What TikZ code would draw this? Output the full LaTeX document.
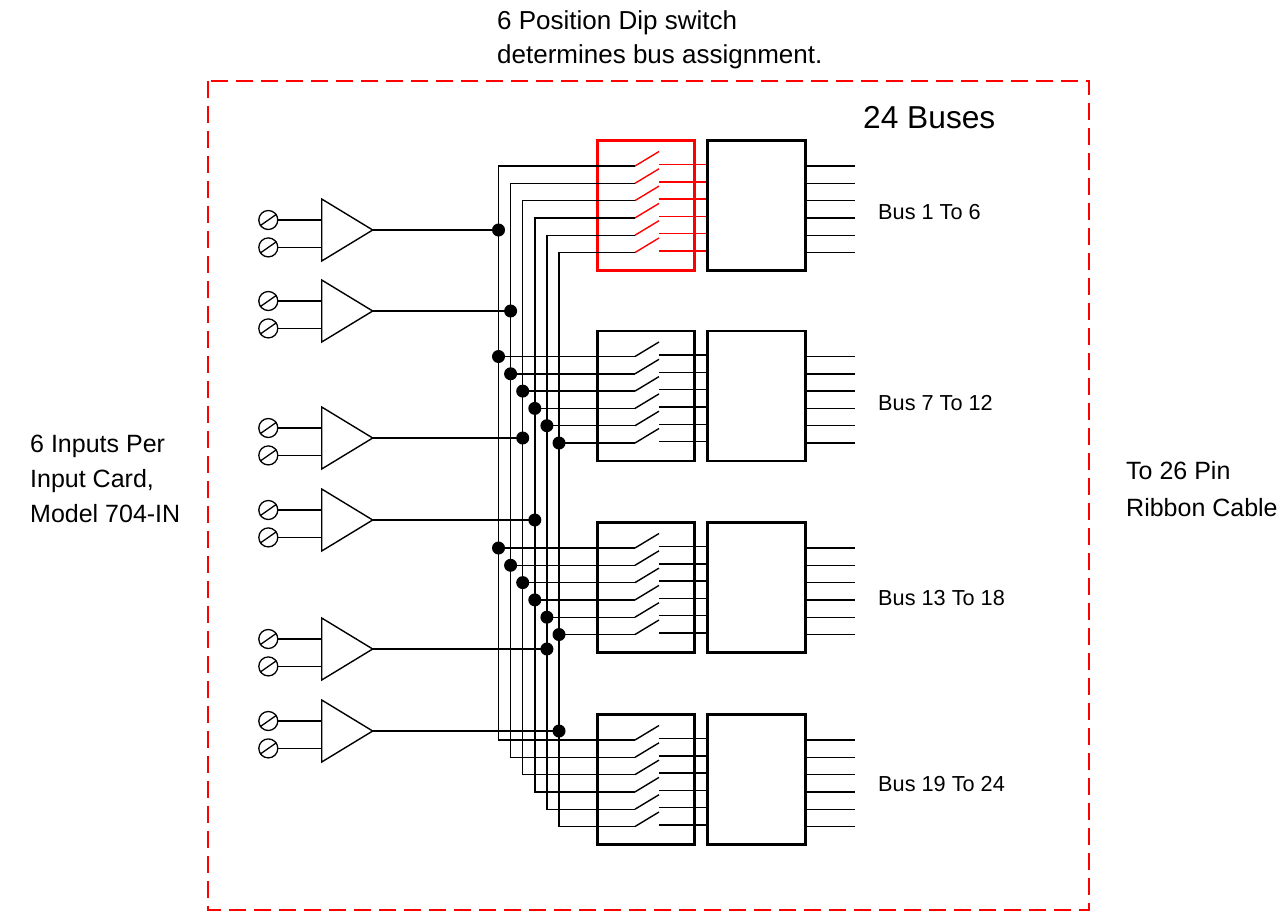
\documentclass[tikz,border=0pt]{standalone}
\usepackage{fontspec}
\setmainfont{Liberation Sans}
\begin{document}
\begin{tikzpicture}[x=1pt,y=-1pt,
  wire/.style={line width=1.4pt, black},
  boxline/.style={line width=2.8pt},
  jdot/.style={circle, fill=black, inner sep=0pt, minimum size=13pt},
  term/.style={circle, draw, line width=1.3pt, inner sep=0pt, minimum size=19pt},
  amp/.style={line width=1.4pt},
  lbl/.style={anchor=base west, inner sep=0pt, font=\fontsize{25}{30}\selectfont},
  toplbl/.style={anchor=base west, inner sep=0pt, font=\fontsize{26}{30}\selectfont},
  buslbl/.style={anchor=base west, inner sep=0pt, font=\fontsize{21.7}{25}\selectfont},
  border/.style={draw=red, line width=2pt, dash pattern=on 17pt off 8pt}]
\useasboundingbox (0,0) rectangle (1284,911);

% dashed card outline
\draw[border] (208,81) rectangle (1089,910);

% texts
\node[toplbl] (t1) at (497,29) {6 Position Dip switch};
\node[toplbl] (t2) at (497,63) {determines bus assignment.};
\node[anchor=base west, inner sep=0pt, font=\fontsize{31.7}{36}\selectfont] (t3) at (863,128) {24 Buses};
\node[lbl] (l1) at (30,452) {6 Inputs Per};
\node[lbl] (l2) at (30,487) {Input Card,};
\node[lbl] (l3) at (30,522) {Model 704-IN};
\node[lbl] (r1) at (1126,479) {To 26 Pin};
\node[lbl] (r2) at (1126,516) {Ribbon Cable};
\node[buslbl] (b1) at (878,219.5) {Bus 1 To 6};
\node[buslbl] (b2) at (878,410.5) {Bus 7 To 12};
\node[buslbl] (b3) at (878,605.5) {Bus 13 To 18};
\node[buslbl] (b4) at (878,791.5) {Bus 19 To 24};

% vertical bus line x positions
\foreach \j in {1,...,6} {
  \pgfmathsetmacro\vx{498.5+12.1*(\j-1)}
  \coordinate (vx-\j) at (\vx,0);
}

% switch boxes, chips, rows
\foreach \k/\top/\col in {1/139/red,2/329.5/black,3/521/black,4/713/black} {
  \node[draw=\col, boxline, anchor=north west, inner sep=0pt, minimum width=97pt, minimum height=130pt] (sw-\k) at (596,\top) {};
  \node[draw=black, boxline, anchor=north west, inner sep=0pt, minimum width=98pt, minimum height=130pt] (chip-\k) at (706,\top) {};
  \foreach \j/\off in {1/27,2/44.3,3/61.6,4/78.9,5/96.2,6/113.5} {
    \pgfmathsetmacro\ry{\top+\off}
    \pgfmathsetmacro\rs{\top+\off-1.5}
    \pgfmathsetmacro\rd{\top+\off-14.5}
    \coordinate (r-\k-\j) at (635,\ry);
    \coordinate (sa-\k-\j) at (659,\rd);
    \coordinate (sb-\k-\j) at (659,\rs);
    \coordinate (sc-\k-\j) at (chip-\k.west |- sb-\k-\j);
    \coordinate (oa-\k-\j) at (chip-\k.east |- r-\k-\j);
    \coordinate (ob-\k-\j) at (855,\ry);
    \draw[wire, draw=\col] (r-\k-\j) -- (sa-\k-\j);
    \draw[wire, draw=\col] (sb-\k-\j) -- (sc-\k-\j);
    \draw[wire] (oa-\k-\j) -- (ob-\k-\j);
  }
}

% vertical bus lines
\foreach \j in {1,...,6} {
  \draw[wire] (r-1-\j) -- (r-1-\j -| vx-\j) -- (r-4-\j -| vx-\j) -- (r-4-\j);
  \draw[wire] (r-2-\j -| vx-\j) -- (r-2-\j);
  \draw[wire] (r-3-\j -| vx-\j) -- (r-3-\j);
}

% amplifiers with input terminals
\foreach \j/\cy in {1/230,2/311,3/438,4/520,5/649,6/731} {
  \pgfmathsetmacro\ya{\cy-31}
  \pgfmathsetmacro\yb{\cy+31}
  \pgfmathsetmacro\yi{\cy-10}
  \pgfmathsetmacro\yj{\cy+17.4}
  \coordinate (amp-\j-out) at (372.7,\cy);
  \coordinate (amp-\j-a) at (321.7,\ya);
  \coordinate (amp-\j-b) at (321.7,\yb);
  \coordinate (amp-\j-i1) at (321.7,\yi);
  \coordinate (amp-\j-i2) at (321.7,\yj);
  \draw[amp] (amp-\j-a) -- (amp-\j-out) -- (amp-\j-b) -- cycle;
  \node[term] (ta-\j) at (268.3,\yi) {};
  \node[term] (tb-\j) at (268.3,\yj) {};
  \draw[line width=1.3pt] (ta-\j.215) -- (ta-\j.35);
  \draw[line width=1.3pt] (tb-\j.215) -- (tb-\j.35);
  \draw[wire] (ta-\j.east) -- (amp-\j-i1);
  \draw[wire] (tb-\j.east) -- (amp-\j-i2);
  \draw[wire] (amp-\j-out) -- (amp-\j-out -| vx-\j);
  \node[jdot] (ad-\j) at (amp-\j-out -| vx-\j) {};
}

% junction dots for buses 7-12 and 13-18
\foreach \j in {1,...,6} {
  \node[jdot] (d2-\j) at (r-2-\j -| vx-\j) {};
  \node[jdot] (d3-\j) at (r-3-\j -| vx-\j) {};
}
\end{tikzpicture}
\end{document}
